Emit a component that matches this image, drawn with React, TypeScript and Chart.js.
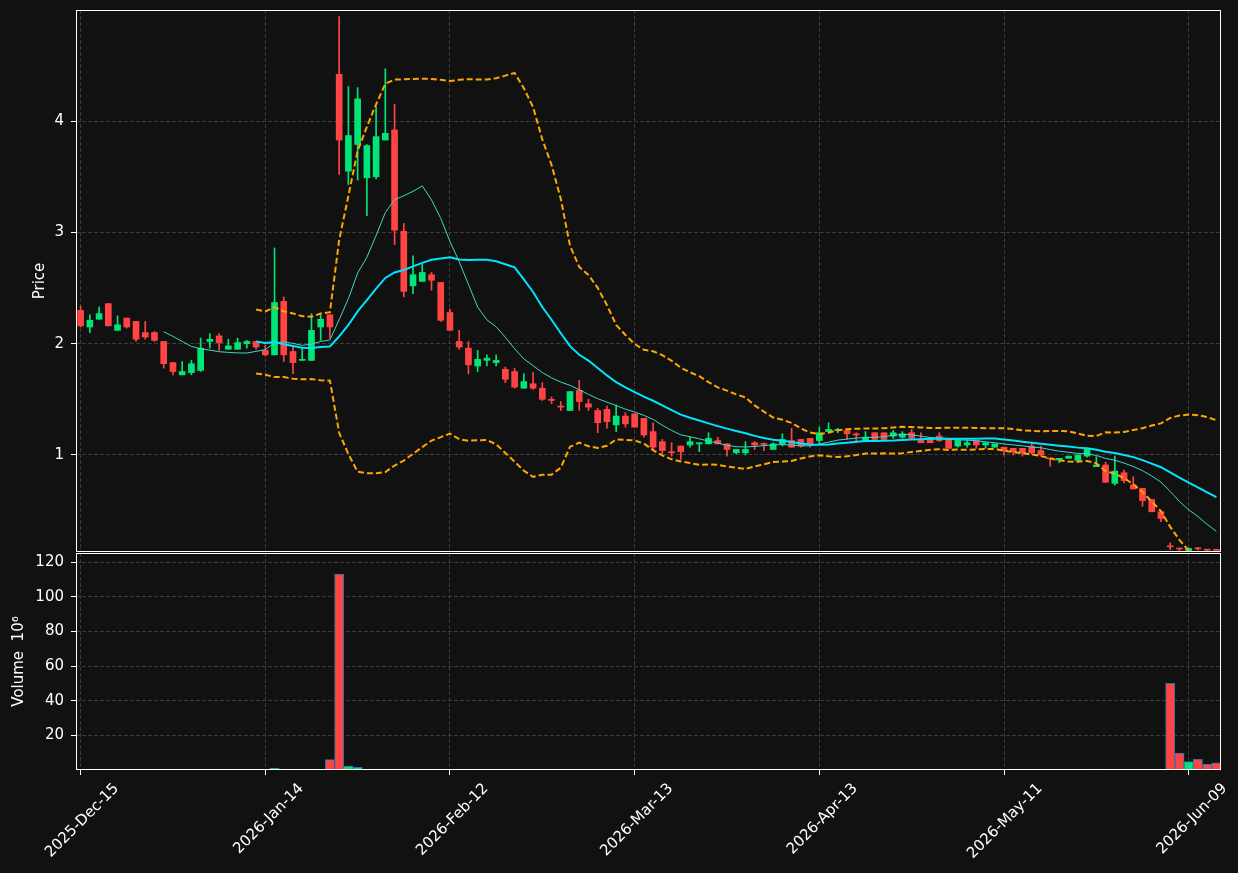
import React, { useEffect, useRef } from 'react';
import { Chart, registerables } from 'chart.js';
Chart.register(...registerables);

// ---- data ----
const tickLabels = ['2025-Dec-15', '2026-Jan-14', '2026-Feb-12', '2026-Mar-13', '2026-Apr-13', '2026-May-11', '2026-Jun-09'];

const opens = [
  2.30, 2.15, 2.22, 2.36, 2.12, 2.23, 2.20, 2.10, 2.10, 2.02,
  1.83, 1.72, 1.74, 1.76, 2.02, 2.07, 1.95, 1.95, 2.00, 2.02,
  1.94, 1.90, 2.38, 1.93, 1.85, 1.85, 2.15, 2.26, 4.42, 3.55,
  3.79, 3.49, 3.50, 3.83, 3.92, 3.01, 2.52, 2.56, 2.62, 2.55,
  2.28, 2.02, 1.96, 1.80, 1.85, 1.83, 1.77, 1.75, 1.60, 1.64,
  1.60, 1.50, 1.44, 1.40, 1.58, 1.46, 1.40, 1.41, 1.27, 1.35,
  1.37, 1.33, 1.21, 1.12, 1.03, 1.08, 1.09, 1.10, 1.10, 1.13,
  1.10, 1.02, 1.02, 1.11, 1.10, 1.05, 1.10, 1.13, 1.14, 1.15,
  1.13, 1.21, 1.22, 1.22, 1.19, 1.13, 1.20, 1.20, 1.17, 1.16,
  1.20, 1.14, 1.14, 1.17, 1.14, 1.08, 1.09, 1.13, 1.09, 1.07,
  1.07, 1.06, 1.06, 1.08, 1.04, 0.97, 0.955, 0.97, 0.95, 0.99,
  0.895, 0.91, 0.745, 0.84, 0.73, 0.70, 0.60, 0.49, 0.18, 0.16,
  0.14, 0.16, 0.148, 0.147,
];
const highs = [
  2.34, 2.26, 2.33, 2.36, 2.25, 2.23, 2.20, 2.20, 2.11, 2.02,
  1.83, 1.84, 1.85, 2.05, 2.09, 2.09, 2.04, 2.05, 2.03, 2.02,
  1.99, 2.86, 2.42, 1.97, 1.96, 2.27, 2.26, 2.26, 4.94, 4.31,
  4.30, 3.79, 4.13, 4.47, 4.15, 3.08, 2.79, 2.72, 2.64, 2.55,
  2.31, 2.12, 2.02, 1.94, 1.90, 1.90, 1.79, 1.78, 1.73, 1.74,
  1.65, 1.52, 1.48, 1.57, 1.67, 1.50, 1.42, 1.44, 1.45, 1.38,
  1.37, 1.33, 1.29, 1.14, 1.11, 1.08, 1.16, 1.11, 1.20, 1.16,
  1.10, 1.05, 1.12, 1.12, 1.11, 1.11, 1.19, 1.24, 1.14, 1.15,
  1.25, 1.29, 1.24, 1.22, 1.20, 1.21, 1.20, 1.20, 1.22, 1.21,
  1.23, 1.20, 1.14, 1.20, 1.14, 1.14, 1.13, 1.13, 1.11, 1.10,
  1.07, 1.06, 1.06, 1.11, 1.08, 0.97, 0.97, 0.99, 1.00, 1.06,
  0.985, 0.934, 0.99, 0.865, 0.805, 0.70, 0.60, 0.49, 0.21, 0.165,
  0.165, 0.17, 0.15, 0.15,
];
const lows = [
  2.15, 2.10, 2.22, 2.16, 2.12, 2.14, 2.02, 2.04, 2.02, 1.78,
  1.72, 1.72, 1.72, 1.75, 1.96, 1.94, 1.95, 1.95, 1.96, 1.95,
  1.89, 1.90, 1.84, 1.73, 1.85, 1.85, 2.03, 2.05, 3.52, 3.43,
  3.47, 3.15, 3.48, 3.83, 2.89, 2.42, 2.45, 2.56, 2.48, 2.20,
  2.12, 1.95, 1.73, 1.75, 1.80, 1.80, 1.65, 1.60, 1.60, 1.59,
  1.49, 1.46, 1.40, 1.40, 1.40, 1.40, 1.20, 1.24, 1.21, 1.25,
  1.25, 1.16, 1.05, 1.01, 0.99, 0.96, 1.07, 1.03, 1.10, 1.10,
  0.99, 1.01, 1.00, 1.05, 1.04, 1.05, 1.08, 1.07, 1.07, 1.07,
  1.10, 1.21, 1.20, 1.14, 1.11, 1.13, 1.14, 1.13, 1.15, 1.15,
  1.14, 1.11, 1.11, 1.12, 1.06, 1.07, 1.07, 1.06, 1.06, 1.07,
  1.00, 1.00, 0.99, 1.01, 0.99, 0.90, 0.93, 0.97, 0.95, 0.98,
  0.895, 0.755, 0.73, 0.75, 0.695, 0.54, 0.49, 0.40, 0.15, 0.14,
  0.14, 0.145, 0.14, 0.14,
];
const closes = [
  2.16, 2.21, 2.27, 2.16, 2.17, 2.15, 2.04, 2.06, 2.03, 1.82,
  1.75, 1.75, 1.82, 1.96, 2.04, 2.01, 1.98, 2.01, 2.02, 1.97,
  1.90, 2.37, 1.90, 1.83, 1.86, 2.12, 2.22, 2.15, 3.83, 3.87,
  4.20, 3.78, 3.86, 3.89, 3.02, 2.47, 2.62, 2.64, 2.57, 2.21,
  2.12, 1.97, 1.81, 1.86, 1.87, 1.85, 1.68, 1.61, 1.66, 1.60,
  1.50, 1.49, 1.43, 1.57, 1.48, 1.43, 1.29, 1.30, 1.35, 1.28,
  1.25, 1.18, 1.07, 1.04, 1.02, 1.03, 1.12, 1.11, 1.15, 1.10,
  1.05, 1.05, 1.05, 1.09, 1.095, 1.10, 1.14, 1.07, 1.08, 1.10,
  1.20, 1.23, 1.23, 1.19, 1.18, 1.16, 1.14, 1.14, 1.20, 1.19,
  1.15, 1.11, 1.11, 1.13, 1.06, 1.13, 1.11, 1.09, 1.11, 1.10,
  1.04, 1.03, 1.02, 1.02, 1.00, 0.965, 0.97, 0.99, 1.00, 1.06,
  0.91, 0.755, 0.855, 0.77, 0.695, 0.59, 0.49, 0.43, 0.175, 0.155,
  0.16, 0.157, 0.145, 0.144,
];
// volume in millions
const volumes = [
  0.05, 0.05, 0.05, 0.05, 0.05, 0.05, 0.05, 0.05, 0.05, 0.05,
  0.05, 0.05, 0.05, 0.05, 0.05, 0.05, 0.05, 0.05, 0.05, 0.05,
  0.05, 1.0, 0.5, 0.05, 0.05, 0.05, 0.05, 6.0, 113.0, 2.2,
  1.6, 0.5, 0.5, 0.5, 0.5, 0.05, 0.05, 0.05, 0.05, 0.05,
  0.05, 0.05, 0.05, 0.05, 0.05, 0.05, 0.05, 0.05, 0.05, 0.05,
  0.05, 0.05, 0.05, 0.05, 0.05, 0.05, 0.05, 0.05, 0.05, 0.05,
  0.05, 0.05, 0.05, 0.05, 0.05, 0.05, 0.05, 0.05, 0.05, 0.05,
  0.05, 0.05, 0.5, 0.05, 0.05, 0.05, 0.05, 0.05, 0.05, 0.05,
  0.05, 0.05, 0.05, 0.05, 0.05, 0.05, 0.05, 0.05, 0.05, 0.05,
  0.05, 0.05, 0.05, 0.05, 0.05, 0.05, 0.05, 0.05, 0.05, 0.05,
  0.05, 0.05, 0.05, 0.05, 0.05, 0.05, 0.05, 0.05, 0.05, 0.05,
  0.5, 0.05, 0.4, 0.4, 0.4, 0.4, 0.4, 0.4, 50.0, 9.7,
  4.8, 6.2, 3.3, 4.1,
];

// ---- derived indicators ----
function rollingMean(vals: number[], w: number): (number | null)[] {
  return vals.map((_, i) => {
    if (i < w - 1) return null;
    let s = 0;
    for (let k = i - w + 1; k <= i; k++) s += vals[k];
    return s / w;
  });
}
function rollingStd(vals: number[], w: number): (number | null)[] {
  const m = rollingMean(vals, w);
  return vals.map((_, i) => {
    const mu = m[i];
    if (mu === null) return null;
    let s = 0;
    for (let k = i - w + 1; k <= i; k++) s += (vals[k] - mu) * (vals[k] - mu);
    return Math.sqrt(s / w);
  });
}

const BG = '#111111';
const GRID = '#3a3a3a';
const UP = '#00e676';
const DOWN = '#ff4444';
const FONT = 'DejaVu Sans';

const spinePlugin = {
  id: 'spines',
  afterDraw(chart: any) {
    const { ctx, chartArea: a } = chart;
    ctx.save();
    ctx.strokeStyle = '#ffffff';
    ctx.lineWidth = 1;
    ctx.strokeRect(a.left + 0.5, a.top + 0.5, a.right - a.left - 1, a.bottom - a.top - 1);
    ctx.restore();
  },
};

export default function App() {
  const pRef = useRef<HTMLCanvasElement>(null);
  const vRef = useRef<HTMLCanvasElement>(null);

  useEffect(() => {
    const labels = closes.map((_, i) => String(i));
    const colors = closes.map((c, i) => (c >= opens[i] ? UP : DOWN));
    const ma10 = rollingMean(closes, 10);
    const ma20 = rollingMean(closes, 20);
    const sd20 = rollingStd(closes, 20);
    const upper = ma20.map((m, i) => (m === null ? null : m + 2 * (sd20[i] as number)));
    const lower = ma20.map((m, i) => (m === null ? null : m - 2 * (sd20[i] as number)));

    const xGridColor = (ctx: any) => (ctx.index % 20 === 0 ? GRID : 'rgba(0,0,0,0)');
    const xTickColor = (ctx: any) => (ctx.index % 20 === 0 ? '#ffffff' : 'rgba(0,0,0,0)');
    const xLabel = (_v: any, idx: number) => (idx % 20 === 0 ? tickLabels[idx / 20] : '');
    const tickFont = { family: FONT, size: 15 };

    const pc = new Chart(pRef.current as HTMLCanvasElement, {
      type: 'bar',
      data: {
        labels,
        datasets: [
          { type: 'line', data: ma20, borderColor: '#00e5ff', borderWidth: 2, pointRadius: 0, order: 1 } as any,
          { type: 'line', data: ma10, borderColor: '#3fd9c8', borderWidth: 1, pointRadius: 0, order: 1 } as any,
          { type: 'line', data: upper, borderColor: '#ffa500', borderWidth: 2, borderDash: [6, 3], pointRadius: 0, order: 1 } as any,
          { type: 'line', data: lower, borderColor: '#ffa500', borderWidth: 2, borderDash: [6, 3], pointRadius: 0, order: 1 } as any,
          {
            type: 'bar',
            data: lows.map((l, i) => [l, highs[i]]),
            backgroundColor: colors,
            barThickness: 1,
            grouped: false,
            order: 3,
          } as any,
          {
            type: 'bar',
            data: opens.map((o, i) => [Math.min(o, closes[i]), Math.max(o, closes[i])]),
            backgroundColor: colors,
            barThickness: 6,
            minBarLength: 1,
            grouped: false,
            order: 2,
          } as any,
        ],
      },
      options: {
        animation: false,
        responsive: false,
        maintainAspectRatio: false,
        layout: { padding: { top: 10, right: 17, left: 0, bottom: 8 } },
        plugins: { legend: { display: false }, tooltip: { enabled: false } },
        scales: {
          x: {
            type: 'category',
            offset: true,
            grid: { offset: false, color: xGridColor, drawTicks: false, lineWidth: 1 },
            border: { display: false, dash: [4, 2] },
            ticks: { display: false, autoSkip: false, callback: xLabel },
            afterFit: (s: any) => {
              s.height = 0;
              s.paddingLeft = 0;
              s.paddingRight = 0;
            },
          },
          y: {
            min: 0.1285,
            max: 4.998,
            ticks: { stepSize: 1, includeBounds: false, color: '#ffffff', font: tickFont, padding: 7 },
            grid: { color: GRID, tickColor: '#ffffff', tickLength: 5 },
            border: { display: false, dash: [4, 2] },
            title: { display: true, text: 'Price', color: '#ffffff', font: tickFont, padding: { top: 31, bottom: 0 } },
            afterFit: (s: any) => {
              s.width = 76;
              s.paddingTop = 0;
              s.paddingBottom = 0;
            },
          },
        },
      } as any,
      plugins: [spinePlugin],
    });

    const vc = new Chart(vRef.current as HTMLCanvasElement, {
      type: 'bar',
      data: {
        labels,
        datasets: [
          {
            data: volumes,
            backgroundColor: colors,
            borderColor: '#1f77b4',
            borderWidth: 1,
            barPercentage: 1,
            categoryPercentage: 1,
          },
        ],
      },
      options: {
        animation: false,
        responsive: false,
        maintainAspectRatio: false,
        layout: { padding: { top: 8, right: 17, left: 0, bottom: 0 } },
        plugins: { legend: { display: false }, tooltip: { enabled: false } },
        scales: {
          x: {
            type: 'category',
            offset: true,
            grid: { offset: false, color: xGridColor, tickColor: xTickColor, tickLength: 5 },
            border: { display: false, dash: [4, 2] },
            ticks: {
              autoSkip: false,
              callback: xLabel,
              color: '#ffffff',
              font: tickFont,
              maxRotation: 45,
              minRotation: 45,
              padding: 5,
              labelOffset: 36,
            },
            afterFit: (s: any) => {
              s.height = 103;
              s.paddingLeft = 0;
              s.paddingRight = 0;
            },
          },
          y: {
            min: 0,
            max: 125.2,
            ticks: {
              stepSize: 20,
              includeBounds: false,
              color: '#ffffff',
              font: tickFont,
              padding: 7,
              callback: (v: any) => (v === 0 ? '' : String(v)),
            },
            grid: {
              color: (ctx: any) => (ctx.tick && ctx.tick.value === 0 ? 'rgba(0,0,0,0)' : GRID),
              tickColor: (ctx: any) => (ctx.tick && ctx.tick.value === 0 ? 'rgba(0,0,0,0)' : '#ffffff'),
              tickLength: 5,
            },
            border: { display: false, dash: [4, 2] },
            title: { display: true, text: 'Volume  10\u2076', color: '#ffffff', font: tickFont, padding: { top: 10, bottom: 0 } },
            afterFit: (s: any) => {
              s.width = 76;
              s.paddingTop = 0;
              s.paddingBottom = 0;
            },
          },
        },
      } as any,
      plugins: [spinePlugin],
    });

    return () => {
      pc.destroy();
      vc.destroy();
    };
  }, []);

  return (
    <div style={{ position: 'fixed', left: 0, top: 0, width: 1238, height: 873, background: BG, overflow: 'hidden' }}>
      <canvas
        ref={pRef}
        width={1238}
        height={560}
        style={{ position: 'absolute', left: 0, top: 0, width: 1238, height: 560 }}
      />
      <canvas
        ref={vRef}
        width={1238}
        height={328}
        style={{ position: 'absolute', left: 0, top: 545, width: 1238, height: 328 }}
      />
    </div>
  );
}
